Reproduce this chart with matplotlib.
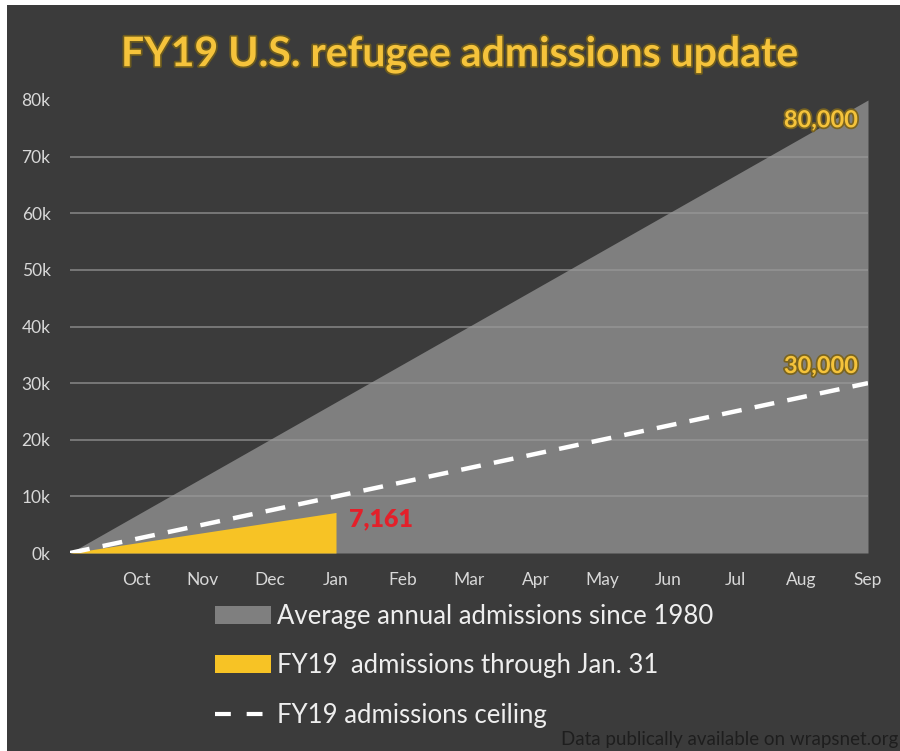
import numpy as np
import matplotlib.pyplot as plt
from matplotlib.patches import Patch, Rectangle
from matplotlib.lines import Line2D
import matplotlib.patheffects as pe

# data
months = ['Oct', 'Nov', 'Dec', 'Jan', 'Feb', 'Mar', 'Apr', 'May', 'Jun', 'Jul', 'Aug', 'Sep']
month_pos = [1, 2, 3, 4, 5, 6, 7, 8, 9, 10, 11, 12]
avg_x = [0, 12]
avg_y = [0, 80000]
fy19_x = [0, 4]
fy19_y = [0, 7161]
ceiling_x = [0, 12]
ceiling_y = [0, 30000]
yticks = [0, 10000, 20000, 30000, 40000, 50000, 60000, 70000, 80000]
ytick_labels = ['0k', '10k', '20k', '30k', '40k', '50k', '60k', '70k', '80k']

BG = '#3b3b3b'
GRAY = '#7f7f7f'
GOLD = '#f5c33b'
FONT = 'Lato'

fig = plt.figure(figsize=(9, 7.51), dpi=100, facecolor='white')
fig.patches.append(Rectangle((7 / 900, 0), 1, 1 - 5 / 751, transform=fig.transFigure,
                             facecolor=BG, edgecolor='none', zorder=-10))

ax = fig.add_axes([70 / 900, 1 - 553 / 751, 798 / 900, 453 / 751])
ax.set_facecolor('none')
ax.set_xlim(0, 12)
ax.set_ylim(0, 80000)

ax.fill_between(avg_x, 0, avg_y, color=GRAY, lw=0, zorder=1)
ax.fill_between(fy19_x, 0, fy19_y, color='#f7c325', lw=0, zorder=3)
ax.plot(ceiling_x, ceiling_y, color='white', lw=3.2, dashes=(4.5, 3), zorder=4)

for y in yticks[1:-1]:
    ax.axhline(y, color='#9a9a9a', lw=1.1, alpha=0.8, zorder=2)

ax.set_xticks(month_pos)
ax.set_xticklabels(months)
ax.set_yticks(yticks)
ax.set_yticklabels(ytick_labels)
ax.tick_params(length=0, colors='#d8d8d8', labelsize=12.5)
ax.tick_params(axis='x', pad=14)
ax.tick_params(axis='y', pad=14)
for lab in ax.get_xticklabels() + ax.get_yticklabels():
    lab.set_family(FONT)
for s in ax.spines.values():
    s.set_visible(False)

glow = [pe.withStroke(linewidth=2.5, foreground='#7a6420')]
ax.text(11.85, 80000 - 3500, '80,000', color=GOLD, fontsize=17, fontweight='bold',
        family=FONT, ha='right', va='center', path_effects=glow)
ax.text(11.85, 30000 + 3100, '30,000', color=GOLD, fontsize=17, fontweight='bold',
        family=FONT, ha='right', va='center', path_effects=glow)
ax.text(4.2, 7161 - 1300, '7,161', color='#e3202a', fontsize=18, fontweight='heavy',
        family=FONT, ha='left', va='center')

fig.text(460 / 900, 1 - 55 / 751, 'FY19 U.S. refugee admissions update', color=GOLD,
         fontsize=29.5, fontweight='bold', family=FONT, ha='center', va='center',
         path_effects=[pe.withStroke(linewidth=2.5, foreground='#6b5a1e')])

handles = [Patch(facecolor=GRAY, edgecolor='none'),
           Patch(facecolor='#f7c325', edgecolor='none'),
           Line2D([0], [0], color='white', lw=3, dashes=(3.8, 3.8))]
labels = ['Average annual admissions since 1980',
          'FY19  admissions through Jan. 31',
          'FY19 admissions ceiling']
leg = fig.legend(handles, labels, loc='upper left', bbox_to_anchor=(202 / 900, 1 - 591 / 751),
                 frameon=False, borderpad=0, handlelength=2.2, handleheight=0.7,
                 handletextpad=0.2, labelspacing=0.95, prop={'family': FONT, 'size': 18.5})
for t in leg.get_texts():
    t.set_color('#eeeeee')

fig.text(898 / 900, 1 - 740 / 751, 'Data publically available on wrapsnet.org', color='#1e1e1e',
         fontsize=13.5, family=FONT, ha='right', va='center')

fig.savefig('out.png', dpi=100, facecolor=fig.get_facecolor())
